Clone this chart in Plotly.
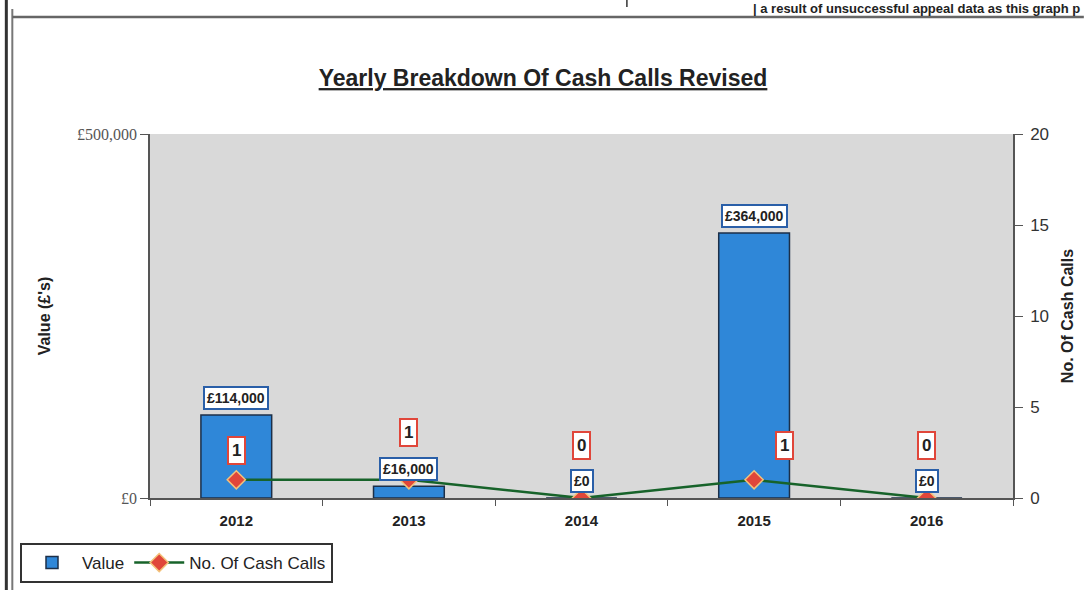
# yearly cash calls chart: bars for value, line for count on a second axis

import plotly.graph_objects as go

years = ["2012", "2013", "2014", "2015", "2016"]
values = [114000, 16000, 0, 364000, 0]
cash_calls = [1, 1, 0, 1, 0]

value_ticks = [0, 500000]
value_tick_text = ["£0", "£500,000"]

# offsets (px) for the count labels, excel nudged them around the other labels
count_xshift = [0, 0, 0, 30, 0]
count_yshift = [29, 47, 53, 34, 53]

W, H = 1086, 590
L, R, T, B = 150, 1015, 134, 498  # plot area in pixels


def px_x(px):
    return (px - L) / (R - L)


def px_y(py):
    return (B - py) / (B - T)


fig = go.Figure()

fig.add_trace(go.Bar(
    x=years, y=values, name="Value", width=0.41,
    marker=dict(color="#2f87d8", line=dict(color="#1c2f48", width=1.5)),
))

fig.add_trace(go.Scatter(
    x=years, y=cash_calls, name="No. Of Cash Calls", yaxis="y2",
    mode="lines+markers",
    line=dict(color="#17632a", width=2.5),
    marker=dict(symbol="diamond", size=14, color="#e0463a",
                line=dict(color="#f3c27a", width=1.5)),
))

annotations = []
# category strings like "2012" get read as numbers, so place labels by index
for i, v in enumerate(values):
    annotations.append(dict(
        x=i, y=v, xref="x", yref="y", text=f"£{v:,}", showarrow=False,
        yshift=17, bgcolor="white", bordercolor="#2a5fa8", borderwidth=2, borderpad=2,
        font=dict(family="Liberation Sans Narrow, Liberation Sans", size=14, color="#222", weight="bold"),
    ))
for i, (c, dx, dy) in enumerate(zip(cash_calls, count_xshift, count_yshift)):
    annotations.append(dict(
        x=i, y=c, xref="x", yref="y2", text=f"<b>{c}</b>", showarrow=False,
        xshift=dx, yshift=dy, bgcolor="white", bordercolor="#e0463a", borderwidth=2, borderpad=3,
        font=dict(family="Liberation Sans", size=17, color="#222"),
    ))

# cut-off text from the page above the chart
annotations.append(dict(
    x=px_x(1083), y=px_y(0), xref="paper", yref="paper", xanchor="right", yanchor="top",
    text="<b>| a result of unsuccessful appeal data as this graph p</b>", showarrow=False,
    font=dict(family="Liberation Sans", size=13, color="#222"), borderpad=0,
))

shapes = [
    # page frame lines
    dict(type="line", xref="paper", yref="paper", x0=px_x(6), x1=px_x(6), y0=px_y(0), y1=px_y(590),
         line=dict(color="#333", width=3)),
    dict(type="line", xref="paper", yref="paper", x0=px_x(12), x1=px_x(12), y0=px_y(9), y1=px_y(590),
         line=dict(color="#777", width=2)),
    dict(type="line", xref="paper", yref="paper", x0=px_x(12), x1=px_x(1086), y0=px_y(17), y1=px_y(17),
         line=dict(color="#666", width=2.5)),
    dict(type="line", xref="paper", yref="paper", x0=px_x(628), x1=px_x(628), y0=px_y(0), y1=px_y(7),
         line=dict(color="#333", width=1.5)),
]

fig.update_layout(
    width=W, height=H,
    margin=dict(l=L, r=W - R, t=T, b=H - B),
    paper_bgcolor="white", plot_bgcolor="#d9d9d9",
    title=dict(text="Yearly Breakdown Of Cash Calls Revised", x=0.5, xanchor="center",
               y=(H - 78) / H, yanchor="middle",
               font=dict(family="Liberation Sans", size=23, color="#222", weight="bold",
                         lineposition="under")),
    xaxis=dict(type="category", range=[-0.5, 4.5], showline=True, linecolor="#555", linewidth=1.5,
               ticks="outside", tickson="boundaries", ticklen=6, tickcolor="#555",
               ticklabelstandoff=8,
               tickfont=dict(family="Liberation Sans", size=15, color="#222", weight="bold"),
               showgrid=False),
    yaxis=dict(range=[0, 500000], tickvals=value_ticks, ticktext=value_tick_text,
               showline=True, linecolor="#555", linewidth=1.5, ticks="outside", ticklen=8,
               tickcolor="#555", showgrid=False, zeroline=False, ticklabelstandoff=0,
               tickfont=dict(family="Liberation Serif, DejaVu Serif", size=16, color="#555"),
               title=dict(text="Value (£'s)", standoff=22,
                          font=dict(family="Liberation Sans", size=16, color="#222", weight="bold"))),
    yaxis2=dict(range=[0, 20], dtick=5, overlaying="y", side="right",
                showline=True, linecolor="#555", linewidth=1.5, ticks="outside", ticklen=8,
                tickcolor="#555", showgrid=False, zeroline=False, ticklabelstandoff=4,
                tickfont=dict(family="Liberation Sans", size=17, color="#333"),
                title=dict(text="No. Of Cash Calls", standoff=14,
                           font=dict(family="Liberation Sans", size=16, color="#222", weight="bold"))),
    legend=dict(orientation="h", xref="container", yref="container",
                x=20 / W, y=(H - 583) / H, xanchor="left", yanchor="bottom",
                bgcolor="white", bordercolor="#333", borderwidth=2, itemwidth=50,
                font=dict(family="Liberation Sans", size=17, color="#222")),
    annotations=annotations,
    shapes=shapes,
)

# drop the browser's default body margin so the figure sits at the page corner
fig.write_html("out.html", config={"displayModeBar": False},
               post_script="document.body.style.margin = '0';")
